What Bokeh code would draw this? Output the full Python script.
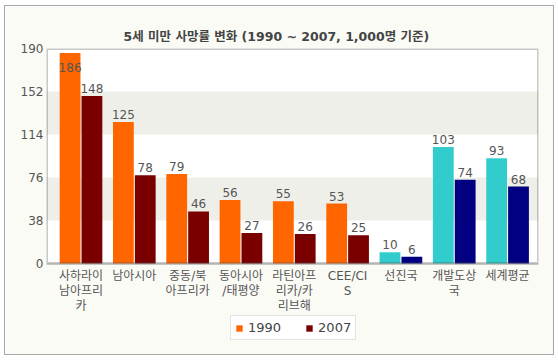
import numpy as np
from bokeh.plotting import figure
from bokeh.models import (ColumnDataSource, FixedTicker, Legend, LegendItem,
                          BoxAnnotation, Range1d)
from bokeh.core.properties import value
from bokeh.embed import file_html
from bokeh.resources import INLINE

# ---- data ----
categories = ["사하라이\n남아프리\n카", "남아시아", "중동/북\n아프리카", "동아시아\n/태평양",
              "라틴아프\n리카/카\n리브해", "CEE/CI\nS", "선진국", "개발도상\n국", "세계평균"]
v1990 = [186, 125, 79, 56, 55, 53, 10, 103, 93]
v2007 = [148, 78, 46, 27, 26, 25, 6, 74, 68]
y_ticks = [0, 38, 76, 114, 152, 190]
series_names = ["1990", "2007"]
title_text = "5세 미만 사망률 변화 (1990 ~ 2007, 1,000명 기준)"

# ---- styles ----
FONT = "DejaVu Sans, Noto Sans CJK KR"
c1990 = ["#ff6600"] * 6 + ["#33cccc"] * 3
c2007 = ["#7a0000"] * 6 + ["#000080"] * 3
TXT = "#555555"
CREAM = "#fbfbf6"

x = np.arange(len(categories))
off = 0.205
w = 0.39
label_cap = 167
extra_below = 72.5   # room under the axis for category labels and legend

src1 = ColumnDataSource(dict(x=x - off, top=v1990, color=c1990,
                             ly=np.minimum(v1990, label_cap),
                             txt=[str(v) for v in v1990]))
src2 = ColumnDataSource(dict(x=x + off, top=v2007, color=c2007,
                             ly=np.minimum(v2007, label_cap),
                             txt=[str(v) for v in v2007]))
srcc = ColumnDataSource(dict(x=x, y=[y_ticks[0]] * len(categories), txt=categories))

p = figure(frame_width=492, frame_height=297, output_backend="svg", toolbar_location=None,
           x_range=Range1d(-0.647, len(categories) - 1 + 0.58),
           y_range=Range1d(y_ticks[0] - extra_below, y_ticks[-1]),
           min_border_left=41, min_border_right=15, min_border_top=42,
           min_border_bottom=9)
p.styles = {"border": "1px solid #a8a8a8", "margin-left": "4px", "margin-top": "5px"}
p.border_fill_color = CREAM
p.background_fill_color = CREAM
p.outline_line_color = None

# white plotting area and alternating bands
p.add_layout(BoxAnnotation(bottom=y_ticks[0], top=y_ticks[-1], fill_color="#ffffff",
                           fill_alpha=1.0, line_color=None, level="underlay"))
for lo, hi in zip(y_ticks[1::2], y_ticks[2::2]):
    p.add_layout(BoxAnnotation(bottom=lo, top=hi, fill_color="#efefe9",
                               fill_alpha=1.0, line_color=None, level="underlay"))

p.title.text = title_text
p.title.align = "left"
p.title.offset = 77
p.title.text_font = FONT
p.title.text_font_size = "12.5px"
p.title.text_font_style = "bold"
p.title.text_color = "#444444"
p.title.standoff = 10

p.xgrid.grid_line_color = None
p.ygrid.grid_line_color = "#c4c4c4"
p.ygrid.grid_line_width = 1
p.ygrid.level = "underlay"

p.yaxis.ticker = FixedTicker(ticks=y_ticks)
p.yaxis.axis_line_color = None
p.yaxis.major_tick_line_color = None
p.yaxis.minor_tick_line_color = None
p.yaxis.major_tick_out = 0
p.yaxis.major_tick_in = 0
p.yaxis.major_label_text_font = FONT
p.yaxis.major_label_text_font_size = "12px"
p.yaxis.major_label_text_color = TXT
p.yaxis.major_label_standoff = 3
p.xaxis.visible = False

r1 = p.vbar(x="x", top="top", width=w, source=src1, fill_color="color", line_color=None)
r2 = p.vbar(x="x", top="top", width=w, source=src2, fill_color="color", line_color=None)

for s in (src1, src2):
    p.text(x="x", y="ly", text="txt", source=s, text_align="center",
           text_baseline="bottom", y_offset=-3, text_font=value(FONT),
           text_font_size="12px", text_color=TXT)

# category labels under the axis
p.text(x="x", y="y", text="txt", source=srcc, text_align="center",
       text_baseline="top", y_offset=6, text_font=value(FONT),
       text_font_size="12px", text_color=TXT, text_line_height=1.05)

# frame box around the value area
p.add_layout(BoxAnnotation(bottom=y_ticks[0], top=y_ticks[-1], fill_color=None,
                           line_color="#4a4a4a", line_width=3, level="overlay"))

legend = Legend(items=[LegendItem(label=series_names[0], renderers=[r1], index=0),
                       LegendItem(label=series_names[1], renderers=[r2], index=0)],
                location=(184, 5), orientation="horizontal")
legend.glyph_width = 8
legend.glyph_height = 8
legend.label_height = 14
legend.label_standoff = 5
legend.spacing = 24
legend.padding = 4
legend.margin = 0
legend.label_text_font = FONT
legend.label_text_font_size = "13px"
legend.label_text_color = "#444444"
legend.border_line_color = "#c8c8c8"
legend.background_fill_color = "#ffffff"
p.add_layout(legend, "center")

open("out.html", "w").write(file_html(p, INLINE))
